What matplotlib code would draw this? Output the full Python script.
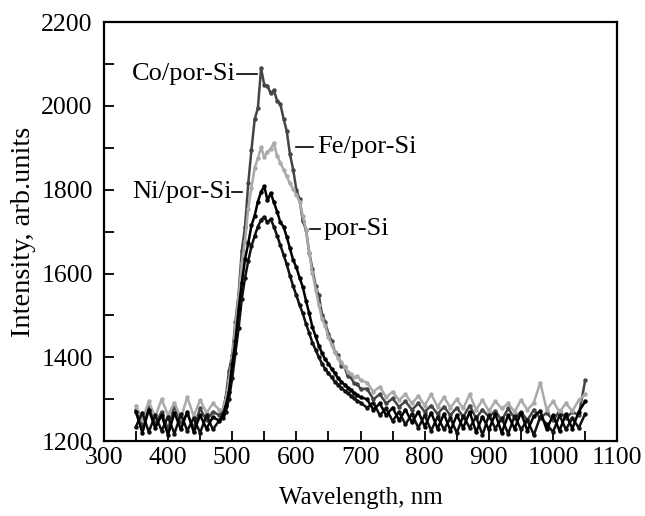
import numpy as np
import matplotlib
matplotlib.use("Agg")
import matplotlib.pyplot as plt
from matplotlib.ticker import MultipleLocator

plt.rcParams['font.family'] = ['Liberation Serif', 'DejaVu Serif']

wavelength = np.concatenate([np.arange(350, 481, 10),
                             np.arange(485, 701, 5),
                             np.arange(710, 1051, 10)])

co_por_si = [1275,1235,1282,1240,1270,1228,1285,1245,1265,1232,1278,1250,1270,1262,
             1272,1305,1368,1405,1485,1552,1655,1712,1815,1895,
             1968,1995,2090,2050,2048,2030,2038,2012,2005,1970,
             1940,1885,1848,1800,1778,1725,1705,1650,1612,1570,
             1548,1502,1485,1455,1440,1412,1405,1380,1378,1355,
             1352,1338,1336,1325,
             1325,1300,1312,1290,1302,1282,1295,1275,1290,1270,
             1285,1265,1282,1262,1280,1258,1285,1255,1275,1258,
             1272,1250,1278,1255,1270,1250,1275,1255,1268,1250,
             1272,1255,1270,1262,1345]

fe_por_si = [1285,1250,1295,1258,1300,1262,1292,1255,1305,1260,1298,1268,1290,1275,
             1275,1298,1345,1398,1475,1545,1625,1678,1755,1805,
             1852,1875,1902,1878,1890,1898,1912,1880,1865,1848,
             1832,1815,1802,1788,1772,1738,1705,1648,1602,1562,
             1525,1492,1475,1448,1430,1412,1398,1388,1378,1366,
             1360,1352,1355,1346,
             1340,1318,1330,1305,1318,1298,1312,1290,1308,1285,
             1312,1282,1305,1280,1300,1278,1312,1275,1298,1272,
             1295,1278,1290,1270,1298,1275,1292,1340,1275,1295,
             1270,1290,1272,1298,1312]

ni_por_si = [1270,1220,1275,1232,1262,1215,1268,1228,1270,1222,1262,1230,1258,1248,
             1262,1285,1318,1385,1438,1515,1578,1635,1672,1715,
             1738,1772,1795,1808,1775,1792,1770,1748,1722,1712,
             1688,1660,1632,1615,1590,1568,1535,1505,1472,1450,
             1428,1410,1395,1385,1372,1362,1350,1342,1335,1328,
             1322,1315,1310,1305,
             1300,1275,1290,1262,1280,1250,1275,1245,1270,1235,
             1268,1230,1265,1225,1262,1232,1270,1222,1258,1228,
             1265,1220,1262,1230,1268,1225,1260,1272,1228,1262,
             1225,1265,1230,1270,1295]

por_si = [1235,1268,1222,1262,1225,1258,1218,1265,1225,1255,1220,1262,1228,1250,
          1255,1270,1300,1350,1410,1470,1540,1590,1630,1665,
          1690,1712,1728,1735,1722,1730,1712,1690,1668,1645,
          1622,1595,1570,1548,1525,1505,1480,1458,1435,1418,
          1400,1385,1372,1362,1352,1342,1335,1328,1320,1315,
          1308,1302,1296,1292,
          1280,1292,1262,1278,1248,1270,1240,1265,1232,1262,
          1225,1258,1228,1255,1220,1260,1232,1258,1215,1262,
          1230,1255,1218,1260,1228,1250,1215,1258,1240,1222,
          1262,1228,1255,1232,1265]

fig = plt.figure(figsize=(6.45, 5.16), dpi=100)
ax = fig.add_axes([0.161, 0.145, 0.796, 0.812])

style = dict(linewidth=1.8, marker='o', markersize=3.2, markeredgewidth=0)
ax.plot(wavelength, co_por_si, color='#454545', **style, zorder=2)
ax.plot(wavelength, fe_por_si, color='#aaaaaa', **style, zorder=3)
ax.plot(wavelength, por_si, color='#111111', **style, zorder=4)
ax.plot(wavelength, ni_por_si, color='#000000', **style, zorder=5)

ax.set_xlim(300, 1100)
ax.set_ylim(1200, 2200)
ax.xaxis.set_major_locator(MultipleLocator(100))
ax.xaxis.set_minor_locator(MultipleLocator(50))
ax.yaxis.set_major_locator(MultipleLocator(200))
ax.yaxis.set_minor_locator(MultipleLocator(100))
ax.tick_params(which='both', direction='in', length=7, width=1.3,
               top=False, right=False, labelsize=18.5)
ax.tick_params(axis='x', pad=4)
ax.tick_params(axis='y', pad=8)
for s in ax.spines.values():
    s.set_linewidth(1.6)

ax.set_xlabel('Wavelength, nm', fontsize=18, labelpad=13)
ax.set_ylabel('Intensity, arb.units', fontsize=20.5, labelpad=4)

fs = 19
ax.text(506, 2076, 'Co/por-Si', ha='right', va='center', fontsize=fs)
ax.plot([507, 539], [2076, 2076], color='black', lw=1.2)
ax.text(499, 1795, 'Ni/por-Si', ha='right', va='center', fontsize=fs)
ax.plot([500, 515], [1795, 1795], color='black', lw=1.2)
ax.plot([600, 626], [1902, 1902], color='black', lw=1.2)
ax.text(633, 1902, 'Fe/por-Si', ha='left', va='center', fontsize=fs)
ax.plot([622, 637], [1706, 1706], color='black', lw=1.2)
ax.text(643, 1706, 'por-Si', ha='left', va='center', fontsize=fs)

fig.savefig('out.png', dpi=100)
